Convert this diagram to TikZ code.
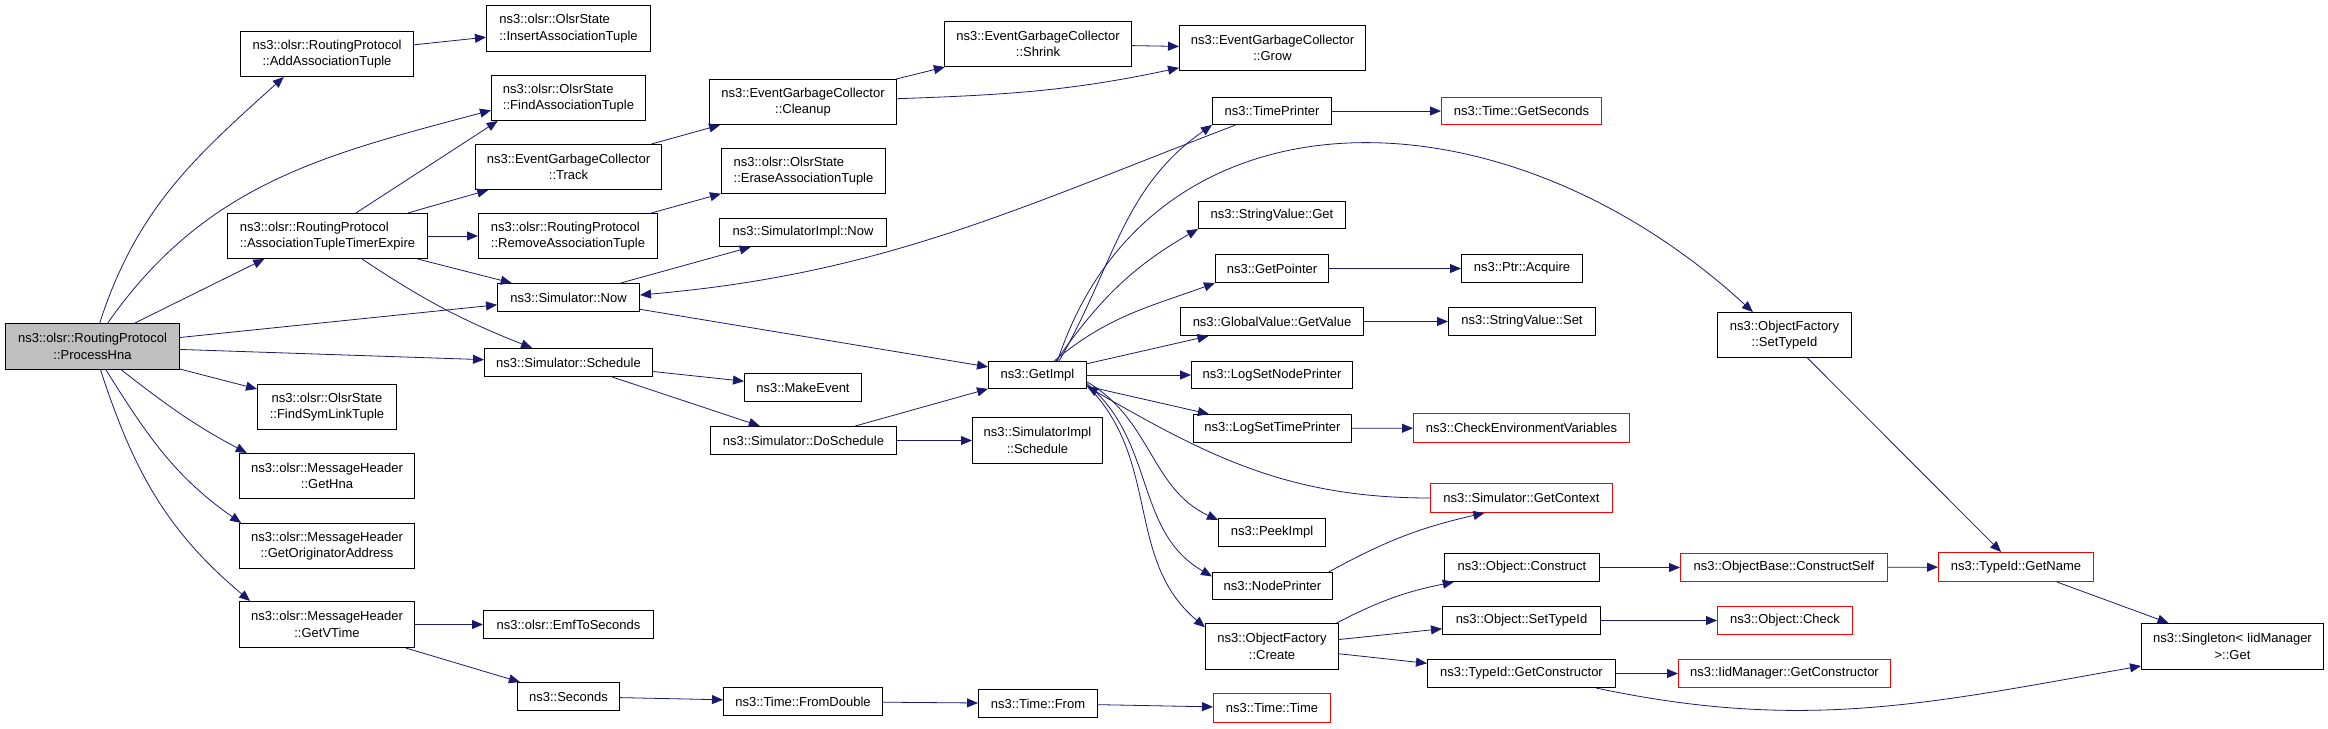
\documentclass[tikz,border=0pt]{standalone}
\usepackage{fontspec}
\setmainfont{Liberation Sans}
\usetikzlibrary{arrows.meta}
\definecolor{edgeblue}{HTML}{191970}

\begin{document}
\begin{tikzpicture}[x=1pt, y=-1pt,
  box/.style={draw, rectangle, anchor=north west, line width=1pt, inner sep=1pt, align=center, minimum height=28, font=\fontsize{13}{16.5}\selectfont},
  tall/.style={box, minimum height=45},
  redbox/.style={box, draw=red},
  call/.style={draw=edgeblue, line width=0.8pt, -{Triangle[length=11pt,width=9pt]}}]
    \useasboundingbox (0,0) rectangle (2328,728);

    % first column
    \node[tall, fill=gray!50, minimum width=174, minimum height=46] (hna) at (5,323) {ns3::olsr::RoutingProtocol\\::ProcessHna};

    % second column
    \node[tall, minimum width=173] (addat) at (240,31) {ns3::olsr::RoutingProtocol\\::AddAssociationTuple};
    \node[tall, align=left, minimum width=200] (expire) at (227,213) {ns3::olsr::RoutingProtocol\\::AssociationTupleTimerExpire};
    \node[tall, minimum width=139] (symlink) at (257,384) {ns3::olsr::OlsrState\\::FindSymLinkTuple};
    \node[tall, minimum width=175] (gethna) at (239,453) {ns3::olsr::MessageHeader\\::GetHna};
    \node[tall, minimum width=175] (getorig) at (239,523) {ns3::olsr::MessageHeader\\::GetOriginatorAddress};
    \node[tall, minimum width=175, minimum height=46] (getvtime) at (239,601) {ns3::olsr::MessageHeader\\::GetVTime};

    % third column
    \node[tall, align=left, minimum width=164, minimum height=46] (insat) at (486,5) {ns3::olsr::OlsrState\\::InsertAssociationTuple};
    \node[tall, align=left, minimum width=154] (findat) at (491,75) {ns3::olsr::OlsrState\\::FindAssociationTuple};
    \node[tall, minimum width=186] (track) at (475,144) {ns3::EventGarbageCollector\\::Track};
    \node[tall, align=left, minimum width=179] (remove) at (478,213) {ns3::olsr::RoutingProtocol\\::RemoveAssociationTuple};
    \node[box, minimum width=142] (now) at (497,283) {ns3::Simulator::Now};
    \node[box, minimum width=168] (sched) at (484,348) {ns3::Simulator::Schedule};
    \node[box, minimum width=170] (emf) at (483,610) {ns3::olsr::EmfToSeconds};
    \node[box, minimum width=102] (seconds) at (517,682) {ns3::Seconds};

    % fourth column
    \node[tall, minimum width=187] (cleanup) at (709,79) {ns3::EventGarbageCollector\\::Cleanup};
    \node[tall, align=left, minimum width=164] (erase) at (721,148) {ns3::olsr::OlsrState\\::EraseAssociationTuple};
    \node[box, minimum width=167] (simplnow) at (719,218) {ns3::SimulatorImpl::Now};
    \node[box, minimum width=117] (makeevent) at (744,373) {ns3::MakeEvent};
    \node[box, minimum width=186] (dosched) at (710,426) {ns3::Simulator::DoSchedule};
    \node[box, minimum width=159] (fromdouble) at (723,687) {ns3::Time::FromDouble};

    % fifth column
    \node[tall, minimum width=187] (shrink) at (944,21) {ns3::EventGarbageCollector\\::Shrink};
    \node[box, minimum width=98, minimum height=27] (getimpl) at (988,361) {ns3::GetImpl};
    \node[tall, minimum width=130, minimum height=46] (simplsched) at (972,417) {ns3::SimulatorImpl\\::Schedule};
    \node[box, minimum width=119] (timefrom) at (978,689) {ns3::Time::From};

    % sixth column
    \node[tall, minimum width=186] (grow) at (1179,25) {ns3::EventGarbageCollector\\::Grow};
    \node[box, minimum width=119, minimum height=27] (timeprinter) at (1212,97) {ns3::TimePrinter};
    \node[box, minimum width=147, minimum height=27] (strget) at (1198,201) {ns3::StringValue::Get};
    \node[box, minimum width=113] (getpointer) at (1215,254) {ns3::GetPointer};
    \node[box, minimum width=183] (getvalue) at (1180,307) {ns3::GlobalValue::GetValue};
    \node[box, minimum width=161, minimum height=27] (lognode) at (1191,361) {ns3::LogSetNodePrinter};
    \node[box, minimum width=158] (logtime) at (1193,414) {ns3::LogSetTimePrinter};
    \node[box, minimum width=107] (peek) at (1218,518) {ns3::PeekImpl};
    \node[box, minimum width=120, minimum height=27] (nodeprinter) at (1212,572) {ns3::NodePrinter};
    \node[tall, minimum width=133, minimum height=46] (create) at (1205,623) {ns3::ObjectFactory\\::Create};
    \node[redbox, minimum width=117, minimum height=29] (timetime) at (1213,693) {ns3::Time::Time};

    % seventh column
    \node[redbox, minimum width=160, minimum height=27] (getseconds) at (1441,97) {ns3::Time::GetSeconds};
    \node[box, minimum width=121] (acquire) at (1461,254) {ns3::Ptr::Acquire};
    \node[box, minimum width=147] (strset) at (1448,307) {ns3::StringValue::Set};
    \node[redbox, minimum width=216, minimum height=29] (checkenv) at (1413,413) {ns3::CheckEnvironmentVariables};
    \node[redbox, minimum width=182, minimum height=29] (getcontext) at (1430,483) {ns3::Simulator::GetContext};
    \node[box, minimum width=155] (construct) at (1444,553) {ns3::Object::Construct};
    \node[box, minimum width=158] (objsettype) at (1442,606) {ns3::Object::SetTypeId};
    \node[box, minimum width=188] (tidgetctor) at (1427,659) {ns3::TypeId::GetConstructor};

    % eighth column
    \node[tall, minimum width=134] (ofsettype) at (1717,312) {ns3::ObjectFactory\\::SetTypeId};
    \node[redbox, minimum width=207] (constructself) at (1680,553) {ns3::ObjectBase::ConstructSelf};
    \node[redbox, minimum width=135] (check) at (1717,606) {ns3::Object::Check};
    \node[redbox, minimum width=212] (iidgetctor) at (1678,659) {ns3::IidManager::GetConstructor};

    % last columns
    \node[redbox, minimum width=155, minimum height=29] (getname) at (1938,552) {ns3::TypeId::GetName};
    \node[tall, minimum width=182, minimum height=46] (singleton) at (2141,623) {ns3::Singleton< IidManager\\ >::Get};

    % calls from ProcessHna
    \draw[call] (hna.73) to[out=72,in=222] (addat.208);
    \draw[call] (hna.57) to[out=55,in=195] (findat.189);
    \draw[call] (hna.29) -- (expire.200);
    \draw[call] (hna) -- (now);
    \draw[call] (hna) -- (sched);
    \draw[call] (hna) -- (symlink);
    \draw[call] (hna.-39) to[out=-38,in=152] (gethna.164);
    \draw[call] (hna.-60) to[out=-58,in=145] (getorig.165);
    \draw[call] (hna.-71) to[out=-72,in=140] (getvtime.163);

    % second column calls
    \draw[call] (addat) -- (insat);
    \draw[call] (expire.39) -- (findat.198);
    \draw[call] (expire) -- (track);
    \draw[call] (expire) -- (remove);
    \draw[call] (expire) -- (now);
    \draw[call] (expire) to[bend right=6] (sched);
    \draw[call] (getvtime) -- (emf);
    \draw[call] (getvtime) -- (seconds);

    % third and fourth column calls
    \draw[call] (track) -- (cleanup);
    \draw[call] (cleanup) -- (shrink);
    \draw[call] (cleanup.2) to[out=2,in=192] (grow.192);
    \draw[call] (shrink) -- (grow);
    \draw[call] (remove) -- (erase);
    \draw[call] (now) -- (simplnow);
    \draw[call] (now) -- (getimpl);
    \draw[call] (sched) -- (makeevent);
    \draw[call] (sched) -- (dosched);
    \draw[call] (dosched) -- (getimpl);
    \draw[call] (dosched) -- (simplsched);
    \draw[call] (seconds) -- (fromdouble);
    \draw[call] (fromdouble) -- (timefrom);
    \draw[call] (timefrom) -- (timetime);

    % calls from GetImpl
    \draw[call] (getimpl.33) to[out=60,in=215] (timeprinter.south west);
    \draw[call] (getimpl.35) .. controls (1150,80) and (1500,80) .. (ofsettype.144);
    \draw[call] (getimpl.37) to[out=55,in=210] (strget.south west);
    \draw[call] (getimpl.40) to[out=40,in=200] (getpointer.south west);
    \draw[call] (getimpl) -- (getvalue);
    \draw[call] (getimpl) -- (lognode);
    \draw[call] (getimpl) -- (logtime);
    \draw[call] (getimpl.-8) to[out=-30,in=155] (peek.167);
    \draw[call] (getimpl.-10) to[out=-40,in=150] (nodeprinter.171);
    \draw[call] (getimpl.-12) to[out=-45,in=140] (create.164);
    \draw[call] (getcontext.west) to[out=180,in=-30] (getimpl.-13);
    \draw[call] (timeprinter.201) to[out=201,in=5] (now.2);

    % right part
    \draw[call] (timeprinter) -- (getseconds);
    \draw[call] (getpointer) -- (acquire);
    \draw[call] (getvalue) -- (strset);
    \draw[call] (logtime) -- (checkenv);
    \draw[call] (nodeprinter.14) to[bend left=8] (getcontext.202);
    \draw[call] (create.20) to[bend left=8] (construct.192);
    \draw[call] (create) -- (objsettype);
    \draw[call] (create) -- (tidgetctor);
    \draw[call] (construct) -- (constructself);
    \draw[call] (constructself) -- (getname);
    \draw[call] (objsettype) -- (check);
    \draw[call] (tidgetctor) -- (iidgetctor);
    \draw[call] (tidgetctor.-11) to[out=-12,in=190] (singleton.192);
    \draw[call] (ofsettype) -- (getname);
    \draw[call] (getname) -- (singleton);

\end{tikzpicture}
\end{document}
